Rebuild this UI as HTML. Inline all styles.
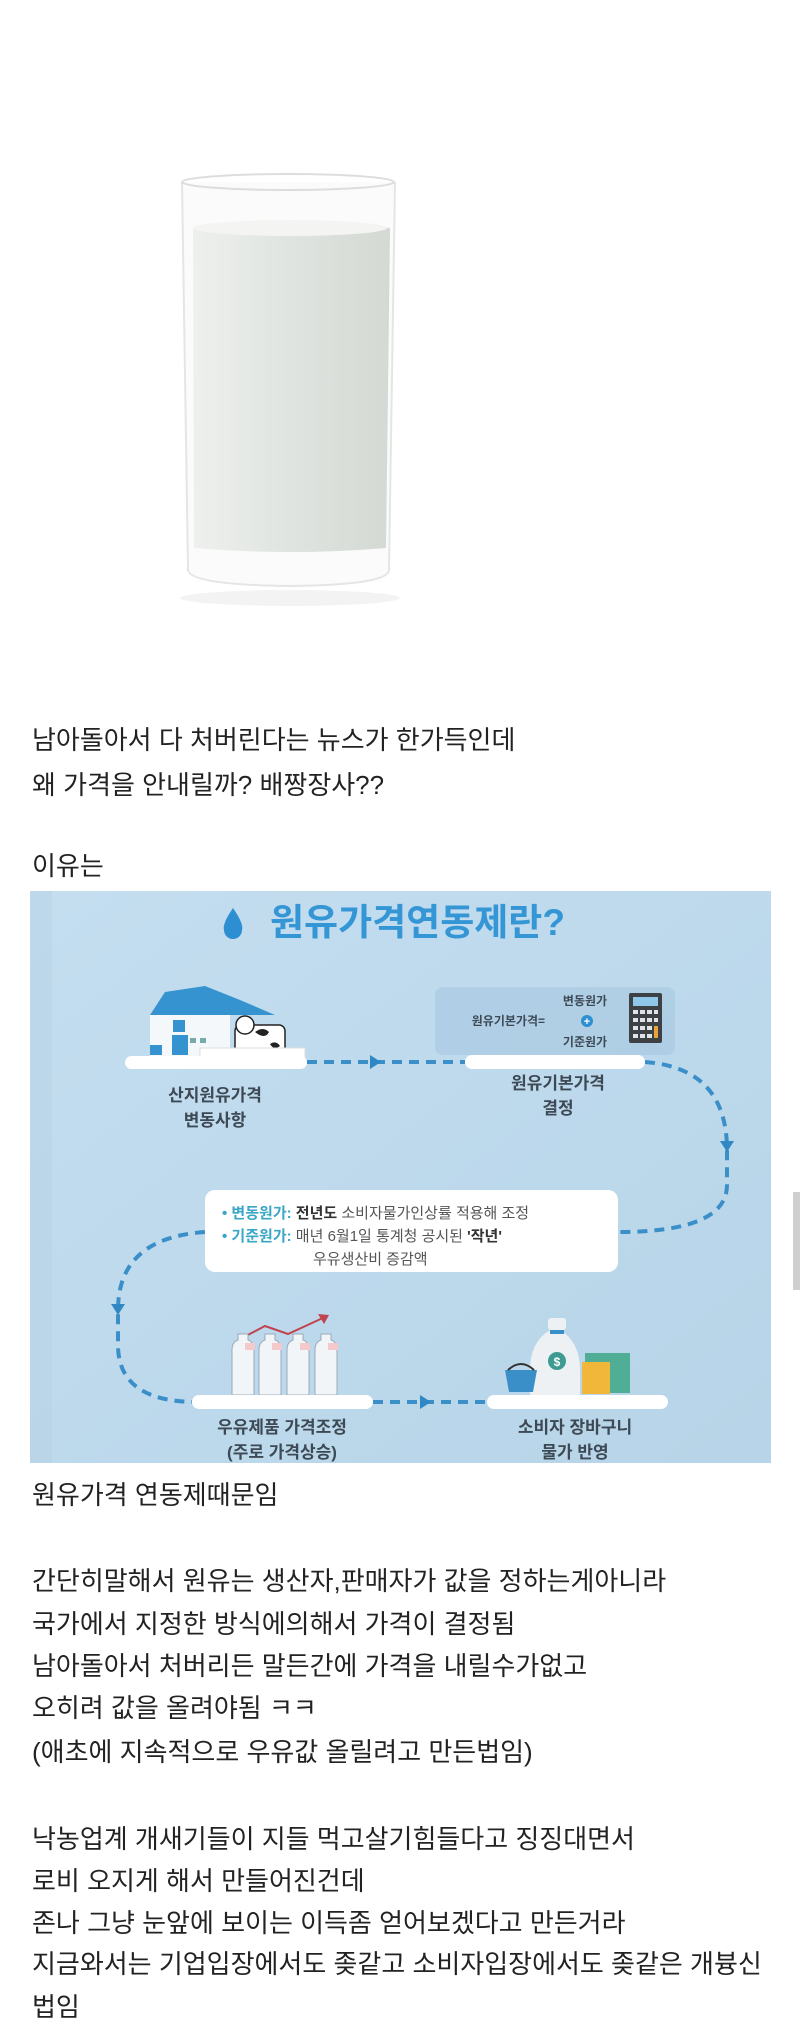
<!DOCTYPE html>
<html><head><meta charset="utf-8">
<style>
html,body{margin:0;padding:0;background:#fff;}
body{width:800px;height:2040px;position:relative;overflow:hidden;font-family:"Liberation Sans","Noto Sans CJK KR",sans-serif;color:#222;}
.t{position:absolute;left:32px;font-size:26px;line-height:30px;white-space:nowrap;letter-spacing:0;}
svg{position:absolute;left:0;top:0;}
.lbl{font-family:"Liberation Sans","Noto Sans CJK KR",sans-serif;font-weight:bold;fill:#3d4a55;}
</style></head><body>
<svg width="800" height="2040" viewBox="0 0 800 2040">
<defs>
<linearGradient id="bg" x1="0" y1="0" x2="1" y2="1">
<stop offset="0" stop-color="#c4def0"/><stop offset="1" stop-color="#b7d4e8"/></linearGradient>
<linearGradient id="milk" x1="0" y1="0" x2="1" y2="0">
<stop offset="0" stop-color="#eef0ee"/><stop offset="0.4" stop-color="#e2e6e2"/><stop offset="1" stop-color="#d4d9d4"/></linearGradient>
</defs>
<path d="M182,182 L188,570 Q190,585 290,586 Q388,585 389,570 L395,182" fill="#fafbfa" stroke="#e4e6e4" stroke-width="2"/>
<ellipse cx="288" cy="182" rx="106" ry="8" fill="none" stroke="#dcdedc" stroke-width="2"/>
<path d="M193,228 Q290,215 390,228 L386,548 Q290,556 194,548 Z" fill="url(#milk)"/>
<ellipse cx="290" cy="228" rx="97" ry="8" fill="#f4f5f3"/>
<ellipse cx="290" cy="598" rx="110" ry="8" fill="#f3f3f3"/>

<rect x="30" y="891" width="741" height="572" fill="url(#bg)"/>
<rect x="30" y="891" width="22" height="572" fill="#b5d1e4" opacity="0.5"/>
<path d="M233,908 Q222,924 224,930 A9,9 0 0 0 242,930 Q244,924 233,908Z" fill="#2d8fd2"/>
<text x="270" y="935" font-size="37" font-weight="bold" fill="#3596d6" font-family="Liberation Sans,Noto Sans CJK KR,sans-serif">원유가격연동제란?</text>

<g fill="none" stroke="#3a8fc8" stroke-width="4" stroke-dasharray="10 7">
<path d="M307,1062 L465,1062"/>
<path d="M645,1062 Q727,1068 727,1150 L727,1185 Q727,1232 618,1232"/>
<path d="M205,1232 Q118,1238 118,1310 L118,1345 Q118,1400 192,1402"/>
<path d="M373,1402 L487,1402"/>
</g>
<g fill="#2f88c4">
<path d="M370,1055 L381,1062 L370,1069Z"/>
<path d="M720,1141 L734,1141 L727,1152Z"/>
<path d="M111,1304 L125,1304 L118,1315Z"/>
<path d="M420,1395 L431,1402 L420,1409Z"/>
</g>

<g>
<path d="M150,1015 L165,992 L205,986 L240,1000 L275,1015Z" fill="#3593cf"/>
<rect x="150" y="1015" width="80" height="42" fill="#f4f8fb"/>
<rect x="173" y="1020" width="12" height="12" fill="#3593cf"/>
<rect x="172" y="1035" width="16" height="20" fill="#3593cf"/>
<rect x="150" y="1045" width="12" height="10" fill="#3593cf"/>
<rect x="190" y="1038" width="6" height="5" fill="#7aa"/>
<rect x="200" y="1038" width="6" height="5" fill="#7aa"/>
<rect x="235" y="1025" width="50" height="28" rx="6" fill="#fff" stroke="#222" stroke-width="1.5"/>
<circle cx="245" cy="1025" r="9" fill="#fff" stroke="#222" stroke-width="1.5"/>
<path d="M255,1032 q8,-6 14,0 q-4,8 -14,0Z M270,1044 q6,-4 10,2 q-6,5 -10,-2Z" fill="#222"/>
<rect x="200" y="1048" width="105" height="10" fill="#fff" stroke="#ddd"/>
<rect x="125" y="1056" width="182" height="13" rx="6.5" fill="#fff"/>
</g>
<text class="lbl" x="215" y="1101" font-size="17" text-anchor="middle">산지원유가격</text>
<text class="lbl" x="215" y="1126" font-size="17" text-anchor="middle">변동사항</text>

<rect x="435" y="987" width="240" height="68" rx="8" fill="#a9cbe2" opacity="0.7"/>
<text x="545" y="1025" font-size="12" font-weight="bold" fill="#3d4a55" text-anchor="end" font-family="Liberation Sans,Noto Sans CJK KR,sans-serif">원유기본가격=</text>
<text x="585" y="1005" font-size="12" font-weight="bold" fill="#3d4a55" text-anchor="middle" font-family="Liberation Sans,Noto Sans CJK KR,sans-serif">변동원가</text>
<circle cx="587" cy="1021" r="6" fill="#2f8fd0"/>
<text x="587" y="1025" font-size="11" font-weight="bold" fill="#fff" text-anchor="middle">+</text>
<text x="585" y="1046" font-size="12" font-weight="bold" fill="#3d4a55" text-anchor="middle" font-family="Liberation Sans,Noto Sans CJK KR,sans-serif">기준원가</text>
<rect x="629" y="993" width="33" height="50" rx="2" fill="#3d4146"/>
<rect x="633" y="997" width="25" height="9" fill="#8fc7e8"/>
<g fill="#dfe3e6"><rect x="633" y="1010" width="5" height="4"/><rect x="640" y="1010" width="5" height="4"/><rect x="647" y="1010" width="5" height="4"/><rect x="654" y="1010" width="4" height="4"/><rect x="633" y="1018" width="5" height="4"/><rect x="640" y="1018" width="5" height="4"/><rect x="647" y="1018" width="5" height="4"/><rect x="654" y="1018" width="4" height="4"/><rect x="633" y="1026" width="5" height="4"/><rect x="640" y="1026" width="5" height="4"/><rect x="647" y="1026" width="5" height="4"/><rect x="633" y="1034" width="5" height="4"/><rect x="640" y="1034" width="5" height="4"/><rect x="647" y="1034" width="5" height="4"/></g>
<rect x="654" y="1026" width="4" height="12" fill="#e8a43a"/>
<rect x="465" y="1055" width="180" height="14" rx="7" fill="#fff"/>
<text class="lbl" x="558" y="1089" font-size="17" text-anchor="middle">원유기본가격</text>
<text class="lbl" x="558" y="1114" font-size="17" text-anchor="middle">결정</text>

<rect x="205" y="1190" width="413" height="82" rx="10" fill="#fff"/>
<g font-size="15" font-family="Liberation Sans,Noto Sans CJK KR,sans-serif" font-weight="bold">
<text x="222" y="1218"><tspan fill="#3aa6c6">• 변동원가: </tspan><tspan fill="#333">전년도 </tspan><tspan fill="#555" font-weight="normal">소비자물가인상률 적용해 조정</tspan></text>
<text x="222" y="1241"><tspan fill="#3aa6c6">• 기준원가: </tspan><tspan fill="#555" font-weight="normal">매년 6월1일 통계청 공시된 </tspan><tspan fill="#333">'작년'</tspan></text>
<text x="313" y="1264" fill="#555" font-weight="normal">우유생산비 증감액</text>
</g>

<path d="M242,1338 L265,1326 L288,1334 L325,1317" fill="none" stroke="#c0444f" stroke-width="2"/>
<path d="M318,1314 L329,1315 L324,1324Z" fill="#c0444f"/>
<g fill="#f2f5f7" stroke="#9ab" stroke-width="1">
<path d="M232,1350 q0,-8 6,-10 l0,-6 h10 l0,6 q6,2 6,10 v45 h-22Z"/>
<path d="M259,1350 q0,-8 6,-10 l0,-6 h10 l0,6 q6,2 6,10 v45 h-22Z"/>
<path d="M287,1350 q0,-8 6,-10 l0,-6 h10 l0,6 q6,2 6,10 v45 h-22Z"/>
<path d="M315,1350 q0,-8 6,-10 l0,-6 h10 l0,6 q6,2 6,10 v45 h-22Z"/>
</g>
<g fill="#f3c9cc"><rect x="245" y="1343" width="10" height="7"/><rect x="272" y="1343" width="10" height="7"/><rect x="300" y="1343" width="10" height="7"/><rect x="328" y="1343" width="10" height="7"/></g>
<rect x="192" y="1395" width="181" height="14" rx="7" fill="#fff"/>
<text class="lbl" x="282" y="1433" font-size="17" text-anchor="middle">우유제품 가격조정</text>
<text class="lbl" x="282" y="1458" font-size="17" text-anchor="middle">(주로 가격상승)</text>

<path d="M550,1330 q-20,12 -20,40 v25 h50 v-25 q0,-28 -20,-40Z" fill="#eef1f3"/>
<rect x="548" y="1318" width="18" height="12" rx="3" fill="#eef1f3"/>
<rect x="550" y="1330" width="14" height="4" fill="#3a8fc8"/>
<circle cx="557" cy="1361" r="9" fill="#3d9b92"/>
<text x="557" y="1366" font-size="12" fill="#fff" text-anchor="middle" font-weight="bold">$</text>
<rect x="585" y="1353" width="45" height="40" fill="#4fae95"/>
<rect x="582" y="1362" width="28" height="32" fill="#f1b73a"/>
<path d="M505,1370 h32 l-4,22 h-24Z" fill="#3a8fc8"/>
<path d="M508,1370 q13,-12 26,0" fill="none" stroke="#333" stroke-width="2"/>
<rect x="487" y="1395" width="181" height="14" rx="7" fill="#fff"/>
<text class="lbl" x="575" y="1433" font-size="17" text-anchor="middle">소비자 장바구니</text>
<text class="lbl" x="575" y="1458" font-size="17" text-anchor="middle">물가 반영</text>

<rect x="793" y="1192" width="7" height="98" fill="#cfcfcf"/>
</svg>

<div class="t" style="top:725px">남아돌아서 다 처버린다는 뉴스가 한가득인데</div>
<div class="t" style="top:770px">왜 가격을 안내릴까? 배짱장사??</div>
<div class="t" style="top:851px">이유는</div>
<div class="t" style="top:1480px">원유가격 연동제때문임</div>
<div class="t" style="top:1566px">간단히말해서 원유는 생산자,판매자가 값을 정하는게아니라</div>
<div class="t" style="top:1609px">국가에서 지정한 방식에의해서 가격이 결정됨</div>
<div class="t" style="top:1651px">남아돌아서 처버리든 말든간에 가격을 내릴수가없고</div>
<div class="t" style="top:1693px">오히려 값을 올려야됨 ㅋㅋ</div>
<div class="t" style="top:1737px">(애초에 지속적으로 우유값 올릴려고 만든법임)</div>
<div class="t" style="top:1824px">낙농업계 개새기들이 지들 먹고살기힘들다고 징징대면서</div>
<div class="t" style="top:1866px">로비 오지게 해서 만들어진건데</div>
<div class="t" style="top:1908px">존나 그냥 눈앞에 보이는 이득좀 얻어보겠다고 만든거라</div>
<div class="t" style="top:1949px">지금와서는 기업입장에서도 좆같고 소비자입장에서도 좆같은 개븅신</div>
<div class="t" style="top:1992px">법임</div>
</body></html>
